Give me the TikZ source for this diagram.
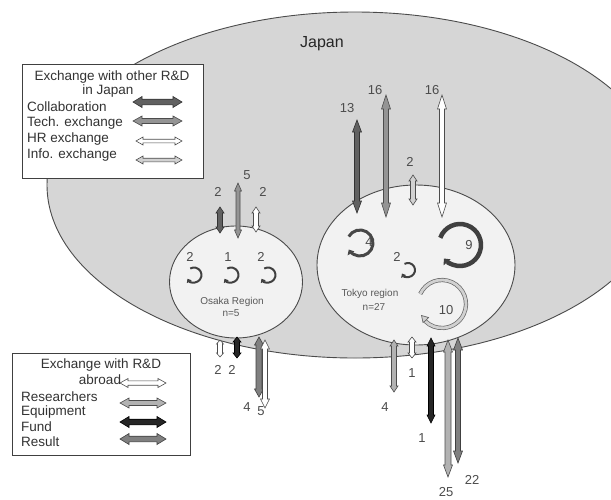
\documentclass[tikz,border=0pt]{standalone}
\usepackage{fontspec}
\setmainfont{Liberation Sans}
\usetikzlibrary{calc,arrows.meta,shapes.geometric}
\definecolor{jpfill}{RGB}{214,214,214}
\definecolor{regfill}{RGB}{242,242,242}
\definecolor{edgec}{RGB}{75,75,75}
% block double arrow: #1 start, #2 end, #3 shaft half width, #4 head half width, #5 head length, #6 style
\newcommand\barrow[6]{%
  \path[#6] (#1) -- ($(#1)!#5!(#2)!#4!90:(#2)$) -- ($(#1)!#5!(#2)!#3!90:(#2)$)
   -- ($(#2)!#5!(#1)!#3!-90:(#1)$) -- ($(#2)!#5!(#1)!#4!-90:(#1)$) -- (#2)
   -- ($(#2)!#5!(#1)!#4!90:(#1)$) -- ($(#2)!#5!(#1)!#3!90:(#1)$)
   -- ($(#1)!#5!(#2)!#3!-90:(#2)$) -- ($(#1)!#5!(#2)!#4!-90:(#2)$) -- cycle;}
% circular arrow: #1 centre, #2 radius, #3 start angle, #4 end angle, #5 style
\newcommand\looparrow[5]{%
  \draw[#5] ($(#1)+(#3:#2)$) arc[start angle=#3, end angle=#4, radius=#2];}
\begin{document}
\begin{tikzpicture}[x=1pt,y=-1pt,
  txt/.style={font=\fontsize{13.5}{15}\selectfont, text=black!80, inner sep=0pt},
  num/.style={font=\fontsize{13}{15}\selectfont, text=black!70, inner sep=0pt},
  reglbl/.style={font=\fontsize{10}{12}\selectfont, text=black!65, inner sep=0pt},
  regionshape/.style={ellipse, draw=edgec, line width=0.9pt, fill=regfill, inner sep=0pt},
  legbox/.style={draw=black!75, line width=0.9pt, fill=white, inner sep=0pt},
  collab/.style={fill=black!62, draw=black!80, line width=0.6pt},
  tech/.style={fill=black!42, draw=black!70, line width=0.6pt},
  hrx/.style={fill=white, draw=black!70, line width=0.6pt},
  infox/.style={fill=black!18, draw=black!70, line width=0.6pt},
  resx/.style={fill=white, draw=black!70, line width=0.6pt},
  equipx/.style={fill=black!30, draw=black!70, line width=0.6pt},
  fundx/.style={fill=black!85, draw=black, line width=0.6pt},
  resultx/.style={fill=black!50, draw=black!75, line width=0.6pt},
  loopsmall/.style={draw=black!75, line width=2pt, -{Triangle[length=3.5pt,width=5.5pt]}},
]
\useasboundingbox (0,0) rectangle (611,499);
\fill[white] (0,0) rectangle (611,499);

% Japan
\node[ellipse, draw=edgec, line width=0.9pt, fill=jpfill, inner sep=0pt,
      minimum width=616pt, minimum height=346pt] (japan) at (355,185) {};
\node[font=\fontsize{16}{18}\selectfont, text=black!85, inner sep=0pt] (japanlbl) at (322,44) {Japan};

% Legend 1
\node[legbox, minimum width=181pt, minimum height=114pt, anchor=north west] (leg1) at (22,64) {};
\node[txt] (l1t1) at (112,77) {Exchange with other R\&D};
\node[txt] (l1t2) at (108,91) {in Japan};
\node[txt, anchor=west] (l1a) at (27,107) {Collaboration};
\node[txt, anchor=west] (l1b) at (27,123) {Tech. exchange};
\node[txt, anchor=west] (l1c) at (27,139) {HR exchange};
\node[txt, anchor=west] (l1d) at (27,155) {Info. exchange};
\coordinate (lc1) at (133,102); \coordinate (lc2) at (182,102);
\coordinate (lt1) at (133,121); \coordinate (lt2) at (182,121);
\coordinate (lh1) at (136,141); \coordinate (lh2) at (182,141);
\coordinate (li1) at (136,160); \coordinate (li2) at (182,160);
\barrow{lc1}{lc2}{2.8pt}{5.5pt}{9pt}{collab}
\barrow{lt1}{lt2}{2.5pt}{5pt}{9pt}{tech}
\barrow{lh1}{lh2}{1.8pt}{4pt}{7pt}{hrx}
\barrow{li1}{li2}{1.8pt}{4pt}{7pt}{infox}

% Legend 2
\node[legbox, minimum width=178pt, minimum height=102pt, anchor=north west] (leg2) at (12,353) {};
\node[txt] (l2t1) at (101,365) {Exchange with R\&D};
\node[txt] (l2t2) at (100,380) {abroad};
\node[txt, anchor=west] (l2a) at (21,397) {Researchers};
\node[txt, anchor=west] (l2b) at (21,412) {Equipment};
\node[txt, anchor=west] (l2c) at (21,427) {Fund};
\node[txt, anchor=west] (l2d) at (21,442) {Result};
\coordinate (lr1) at (120,383); \coordinate (lr2) at (166,383);
\coordinate (le1) at (120,403); \coordinate (le2) at (166,403);
\coordinate (lf1) at (120,422); \coordinate (lf2) at (166,422);
\coordinate (ls1) at (120,439); \coordinate (ls2) at (166,439);
\barrow{lr1}{lr2}{2.2pt}{4.5pt}{8pt}{resx}
\barrow{le1}{le2}{2.5pt}{5pt}{9pt}{equipx}
\barrow{lf1}{lf2}{2.8pt}{5.5pt}{9pt}{fundx}
\barrow{ls1}{ls2}{2.8pt}{5.5pt}{9pt}{resultx}

% Regions
\node[regionshape, minimum width=133pt, minimum height=112pt] (osaka) at (236,282) {};
\node[regionshape, minimum width=198pt, minimum height=160pt] (tokyo) at (416,265) {};
\node[reglbl] (osakalbl) at (232,302) {Osaka Region};
\node[reglbl] (osakan) at (231,313) {n=5};
\node[reglbl] (tokyolbl) at (370,294) {Tokyo region};
\node[reglbl] (tokyon) at (374,307) {n=27};

% Osaka top arrows
\coordinate (oa1) at (220,207); \coordinate (oa2) at (220,233);
\coordinate (ob1) at (238,183); \coordinate (ob2) at (238,238);
\coordinate (oc1) at (256,207); \coordinate (oc2) at (256,232);
\barrow{oa1}{oa2}{2.5pt}{4pt}{6pt}{collab}
\barrow{ob1}{ob2}{2pt}{3.5pt}{8pt}{tech}
\barrow{oc1}{oc2}{2.5pt}{4pt}{6pt}{hrx}
\node[num] (noa) at (218,192) {2};
\node[num] (nob) at (247,175) {5};
\node[num] (noc) at (263,192) {2};

% Tokyo top arrows
\coordinate (ta1) at (357,120); \coordinate (ta2) at (357,213);
\coordinate (tb1) at (386,95);  \coordinate (tb2) at (386,217);
\coordinate (tc1) at (442,95);  \coordinate (tc2) at (442,217);
\coordinate (td1) at (413,175); \coordinate (td2) at (413,205);
\barrow{ta1}{ta2}{2.5pt}{4.5pt}{12pt}{collab}
\barrow{tb1}{tb2}{2.5pt}{4.5pt}{14pt}{tech}
\barrow{tc1}{tc2}{2.5pt}{4.5pt}{14pt}{hrx}
\barrow{td1}{td2}{2.5pt}{4pt}{6pt}{infox}
\node[num] (nta) at (347,108) {13};
\node[num] (ntb) at (375,90) {16};
\node[num] (ntc) at (432,90) {16};
\node[num] (ntd) at (410,162) {2};

% Osaka bottom arrows
\coordinate (od1) at (220,340); \coordinate (od2) at (220,357);
\coordinate (oe1) at (237,337); \coordinate (oe2) at (237,358);
\coordinate (of1) at (259,337); \coordinate (of2) at (259,397);
\coordinate (og1) at (265,340); \coordinate (og2) at (265,408);
\barrow{od1}{od2}{2.5pt}{3.5pt}{4pt}{resx}
\barrow{oe1}{oe2}{2.5pt}{4pt}{5pt}{fundx}
\barrow{of1}{of2}{3pt}{4.5pt}{8pt}{resultx}
\barrow{og1}{og2}{2.5pt}{4.5pt}{9pt}{resx}
\node[num] (nod) at (218,370) {2};
\node[num] (noe) at (232,370) {2};
\node[num] (nof) at (247,407) {4};
\node[num] (nog) at (261,411) {5};

% Tokyo bottom arrows
\coordinate (te1) at (394,340); \coordinate (te2) at (394,392);
\coordinate (tf1) at (412,337); \coordinate (tf2) at (412,358);
\coordinate (tg1) at (431,338); \coordinate (tg2) at (431,423);
\coordinate (th1) at (448,340); \coordinate (th2) at (448,477);
\coordinate (ti1) at (458,338); \coordinate (ti2) at (458,463);
\barrow{te1}{te2}{2.5pt}{4pt}{6pt}{equipx}
\barrow{tf1}{tf2}{2.5pt}{4pt}{5pt}{resx}
\barrow{tg1}{tg2}{2.5pt}{4pt}{8pt}{fundx}
\barrow{th1}{th2}{3pt}{4.5pt}{12pt}{equipx}
\barrow{ti1}{ti2}{2.5pt}{4.5pt}{12pt}{resultx}
\node[num] (nte) at (385,407) {4};
\node[num] (ntf) at (412,373) {1};
\node[num] (ntg) at (422,438) {1};
\node[num] (nth) at (446,492) {25};
\node[num] (nti) at (472,480) {22};

% Osaka internal loops
\coordinate (os1) at (194,275);
\coordinate (os2) at (231,275);
\coordinate (os3) at (268,275);
\looparrow{os1}{7.5}{-120}{150}{loopsmall}
\looparrow{os2}{7.5}{-120}{150}{loopsmall}
\looparrow{os3}{7.5}{-120}{150}{loopsmall}
\node[num] (nos1) at (190,257) {2};
\node[num] (nos2) at (228,257) {1};
\node[num] (nos3) at (261,257) {2};

% Tokyo internal loops
\coordinate (ts4) at (360,243);
\coordinate (ts9) at (460,245);
\coordinate (ts2) at (408,270);
\coordinate (ts10) at (442,304);
\looparrow{ts4}{13}{-150}{150}{draw=black!72, line width=3pt, -{Triangle[length=4.5pt,width=7.5pt]}}
\looparrow{ts9}{21}{-160}{140}{draw=black!75, line width=4.5pt, -{Triangle[length=5pt,width=9pt]}}
\looparrow{ts2}{7}{-120}{150}{loopsmall}
\looparrow{ts10}{24}{-155}{135}{draw=black!60, line width=0.7pt, double=black!18, double distance=2.8pt}
\coordinate (t10e) at (425,321);
\path[draw=black!60, line width=0.7pt, fill=black!18] (t10e) -- ++(3.5,-3.5) -- ++(-7,-2) -- ++(1.5,7) -- cycle;
\node[num] (nts4) at (369,242) {4};
\node[num] (nts9) at (469,245) {9};
\node[num] (nts2) at (397,257) {2};
\node[num] (nts10) at (446,310) {10};
\end{tikzpicture}
\end{document}
